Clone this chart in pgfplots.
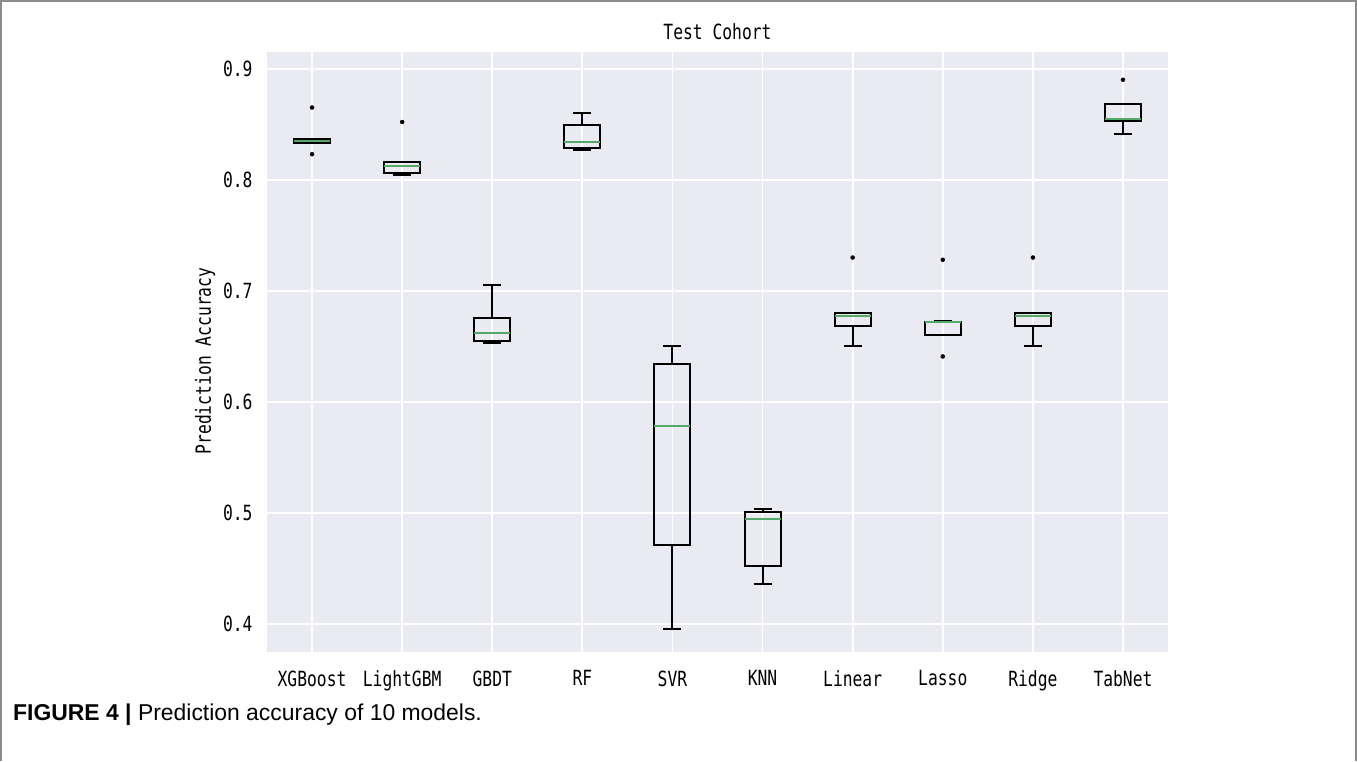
\documentclass[border=0pt]{standalone}
\usepackage{pgfplots}
\pgfplotsset{compat=1.18}
\usepgfplotslibrary{statistics}
\usepackage{fontspec}
\setmainfont{Liberation Sans}
\newfontfamily\mono[FakeStretch=0.78]{DejaVu Sans Mono}
\definecolor{bgc}{HTML}{EAEAF2}
\definecolor{medc}{RGB}{85,168,104}
\definecolor{framec}{RGB}{140,140,140}
\pgfplotsset{bx/.style={draw=black, line width=2bp, solid, mark=*, mark size=2bp,
  mark options={fill=black, draw=black, line width=0.4bp},
  boxplot/every box/.style={draw=black, line width=2bp},
  boxplot/every whisker/.style={draw=black, line width=2bp},
  boxplot/every median/.style={draw=medc, line width=2bp}}}
\begin{document}
\begin{tikzpicture}[x=1bp,y=1bp]
\path[use as bounding box] (0,0) rectangle (1357,761);
\draw[framec, line width=1.5bp] (1,0) -- (1,760) -- (1356,760) -- (1356,0);
\begin{axis}[
  at={(267bp,109bp)}, anchor=south west,
  scale only axis, width=901bp, height=600bp,
  xmin=0.5, xmax=10.5, ymin=0.375, ymax=0.915,
  axis background/.style={fill=bgc},
  axis line style={draw=none},
  major tick style={draw=none},
  grid=major, major grid style={white, line width=1.8bp},
  xtick={1,2,3,4,5,6,7,8,9,10},
  xticklabels={XGBoost,LightGBM,GBDT,RF,SVR,KNN,Linear,Lasso,Ridge,TabNet},
  ytick={0.4,0.5,0.6,0.7,0.8,0.9},
  yticklabels={0.4,0.5,0.6,0.7,0.8,0.9},
  xticklabel style={font=\mono\fontsize{21}{25}\selectfont, yshift=-15bp},
  yticklabel style={font=\mono\fontsize{21}{25}\selectfont, xshift=-11bp},
  title={Test Cohort},
  title style={font=\mono\fontsize{21}{25}\selectfont, yshift=3bp},
  ylabel={Prediction Accuracy},
  every axis y label/.style={at={(axis description cs:-0.0688,0.485)}, rotate=90, anchor=center},
  ylabel style={font=\mono\fontsize{21}{25}\selectfont},
  boxplot/draw direction=y,
]
\addplot[bx, boxplot prepared={draw position=1, box extend=0.4, whisker extend=0.2,
  lower whisker=0.833, lower quartile=0.833, median=0.835, upper quartile=0.837, upper whisker=0.837}]
  table[row sep=\\, y index=0] {y\\ 0.865\\ 0.823\\};
\addplot[bx, boxplot prepared={draw position=2, box extend=0.4, whisker extend=0.2,
  lower whisker=0.804, lower quartile=0.806, median=0.812, upper quartile=0.816, upper whisker=0.816}]
  table[row sep=\\, y index=0] {y\\ 0.852\\};
\addplot[bx, boxplot prepared={draw position=3, box extend=0.4, whisker extend=0.2,
  lower whisker=0.653, lower quartile=0.655, median=0.662, upper quartile=0.676, upper whisker=0.705}]
  coordinates {};
\addplot[bx, boxplot prepared={draw position=4, box extend=0.4, whisker extend=0.2,
  lower whisker=0.827, lower quartile=0.829, median=0.834, upper quartile=0.849, upper whisker=0.860}]
  coordinates {};
\addplot[bx, boxplot prepared={draw position=5, box extend=0.4, whisker extend=0.2,
  lower whisker=0.396, lower quartile=0.471, median=0.578, upper quartile=0.634, upper whisker=0.650}]
  coordinates {};
\addplot[bx, boxplot prepared={draw position=6, box extend=0.4, whisker extend=0.2,
  lower whisker=0.436, lower quartile=0.452, median=0.495, upper quartile=0.501, upper whisker=0.504}]
  coordinates {};
\addplot[bx, boxplot prepared={draw position=7, box extend=0.4, whisker extend=0.2,
  lower whisker=0.650, lower quartile=0.668, median=0.677, upper quartile=0.680, upper whisker=0.680}]
  table[row sep=\\, y index=0] {y\\ 0.730\\};
\addplot[bx, boxplot prepared={draw position=8, box extend=0.4, whisker extend=0.2,
  lower whisker=0.660, lower quartile=0.660, median=0.672, upper quartile=0.672, upper whisker=0.673}]
  table[row sep=\\, y index=0] {y\\ 0.728\\ 0.641\\};
\addplot[bx, boxplot prepared={draw position=9, box extend=0.4, whisker extend=0.2,
  lower whisker=0.650, lower quartile=0.668, median=0.677, upper quartile=0.680, upper whisker=0.680}]
  table[row sep=\\, y index=0] {y\\ 0.730\\};
\addplot[bx, boxplot prepared={draw position=10, box extend=0.4, whisker extend=0.2,
  lower whisker=0.841, lower quartile=0.853, median=0.855, upper quartile=0.868, upper whisker=0.868}]
  table[row sep=\\, y index=0] {y\\ 0.890\\};
\end{axis}
\node[anchor=base west, inner sep=0, font=\fontsize{23}{27}\selectfont] at (13,41)
  {\textbf{FIGURE 4 |} Prediction accuracy of 10 models.};
\end{tikzpicture}
\end{document}
